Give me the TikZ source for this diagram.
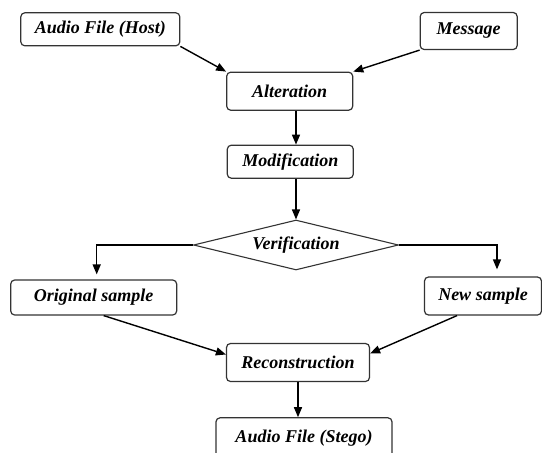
\documentclass[tikz,border=0pt]{standalone}
\usepackage{fontspec}
\setmainfont{Liberation Serif}
\usetikzlibrary{shapes.geometric,arrows.meta}
\tikzset{
  box/.style={draw=black!80, line width=1.2pt, rounded corners=4pt, inner sep=0pt,
    font=\fontsize{18}{20}\selectfont\bfseries\itshape},
  dia/.style={draw=black!80, line width=1.1pt, shape=diamond, aspect=4, inner sep=0pt,
    minimum width=205pt, minimum height=50pt,
    font=\fontsize{18}{20}\selectfont\bfseries\itshape},
  arr/.style={line width=1.4pt, -{Triangle[length=10pt,width=8pt]}}
}
\begin{document}
\begin{tikzpicture}[x=1pt,y=-1pt]
\useasboundingbox (0,0) rectangle (542,453);
\node[box, minimum width=159pt, minimum height=33pt] (host) at (100.3,29.3) {Audio File (Host)};
\node[box, minimum width=97pt, minimum height=37pt] (msg) at (468.7,31) {Message};
\node[box, minimum width=126pt, minimum height=38pt] (alt) at (289.7,91.2) {Alteration};
\node[box, minimum width=126pt, minimum height=33pt] (mod) at (290.3,161.7) {Modification};
\node[dia] (ver) at (296,245) {Verification};
\node[box, minimum width=166pt, minimum height=35pt] (orig) at (93.7,297.5) {Original sample};
\node[box, minimum width=117pt, minimum height=38pt] (new) at (483,296) {New sample};
\node[box, minimum width=143pt, minimum height=38pt] (rec) at (298,362.5) {Reconstruction};
\node[box, minimum width=176pt, minimum height=40pt] (steg) at (304,437.8) {Audio File (Stego)};

\draw[arr] (host.south east) -- (alt.north west);
\draw[arr] (msg.south west) -- (alt.north east);
\draw[arr] (alt.south -| ver.north) -- (mod.north -| ver.north);
\draw[arr] (mod.south -| ver.north) -- (ver.north);
\draw[arr, shorten >=5pt] (ver.west) -| ([xshift=3pt]orig.north);
\draw[arr, shorten >=7pt] (ver.east) -| ([xshift=14pt]new.north);
\draw[arr] ([xshift=10pt]orig.south) -- ([yshift=8pt]rec.west);
\draw[arr] ([xshift=-26pt]new.south) -- ([yshift=9pt]rec.east);
\draw[arr] (rec.south) -- (rec.south |- steg.north);
\end{tikzpicture}
\end{document}
